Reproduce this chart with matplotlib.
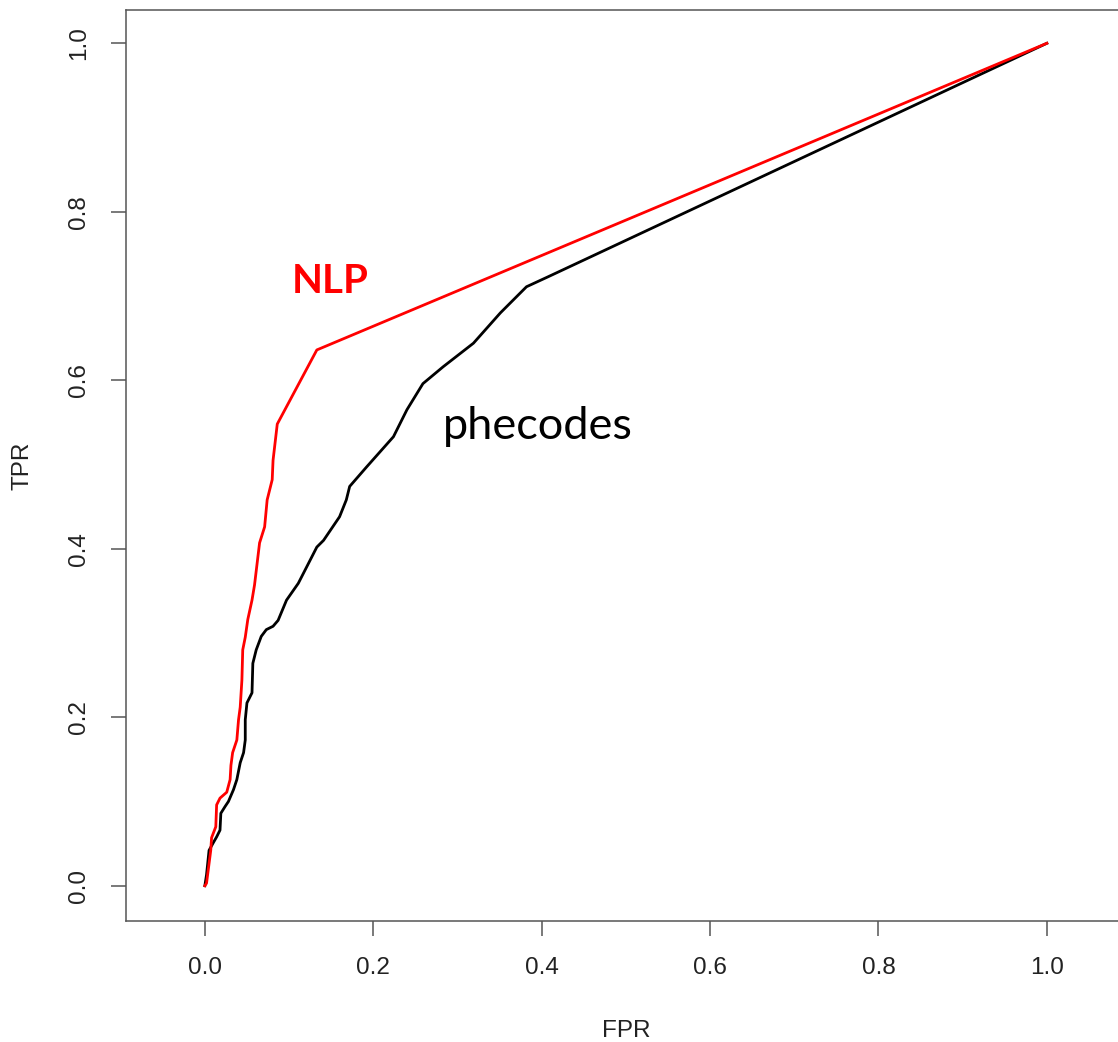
import matplotlib
matplotlib.use("Agg")
from matplotlib import pyplot as plt

# ROC points
nlp_fpr = [0.0, 0.002, 0.007, 0.008, 0.013, 0.014, 0.018, 0.026, 0.030, 0.031,
           0.033, 0.038, 0.040, 0.042, 0.044, 0.045, 0.048, 0.051, 0.056, 0.059,
           0.065, 0.071, 0.074, 0.080, 0.081, 0.086, 0.133, 1.0]
nlp_tpr = [0.0, 0.003, 0.042, 0.057, 0.070, 0.096, 0.104, 0.111, 0.126, 0.143,
           0.158, 0.173, 0.197, 0.212, 0.244, 0.280, 0.295, 0.316, 0.339, 0.357,
           0.407, 0.426, 0.458, 0.482, 0.505, 0.548, 0.636, 1.0]

phe_fpr = [0.0, 0.002, 0.005, 0.010, 0.014, 0.018, 0.019, 0.024, 0.028, 0.034,
           0.038, 0.042, 0.046, 0.048, 0.048, 0.050, 0.056, 0.057, 0.061, 0.067,
           0.073, 0.081, 0.087, 0.097, 0.111, 0.133, 0.141, 0.160, 0.168, 0.172,
           0.192, 0.224, 0.240, 0.259, 0.283, 0.319, 0.351, 0.382, 0.408, 1.0]
phe_tpr = [0.0, 0.013, 0.042, 0.051, 0.058, 0.066, 0.086, 0.094, 0.100, 0.114,
           0.126, 0.146, 0.158, 0.173, 0.197, 0.217, 0.229, 0.264, 0.280, 0.296,
           0.304, 0.308, 0.315, 0.339, 0.359, 0.402, 0.410, 0.438, 0.458, 0.474,
           0.497, 0.533, 0.565, 0.596, 0.616, 0.644, 0.680, 0.711, 0.723, 1.0]

ticks = [0.0, 0.2, 0.4, 0.6, 0.8, 1.0]
tick_labels = ["0.0", "0.2", "0.4", "0.6", "0.8", "1.0"]

plt.rcParams["font.family"] = ["Liberation Sans", "DejaVu Sans"]

fig = plt.figure(figsize=(11.18, 10.42), dpi=100)
ax = fig.add_axes([125.7 / 1118, 1 - 920.7 / 1042, (1126 - 125.7) / 1118, (920.7 - 10) / 1042])

ax.plot(phe_fpr, phe_tpr, color="black", lw=2.0)
ax.plot(nlp_fpr, nlp_tpr, color="red", lw=2.0)

ax.set_xlim(-0.094, 1.094)
ax.set_ylim(-0.0415, 1.0395)

ax.set_xticks(ticks)
ax.set_xticklabels(tick_labels)
ax.set_yticks(ticks)
ax.set_yticklabels(tick_labels, rotation=90, va="center")

ax.tick_params(length=10.8, width=1.1, color="#555555", labelsize=17.5,
               labelcolor="#222222", pad=15)
for s in ax.spines.values():
    s.set_color("#555555")
    s.set_linewidth(1.1)

ax.set_xlabel("FPR", fontsize=17.5, color="#222222", labelpad=30)
ax.set_ylabel("TPR", fontsize=17.5, color="#222222", labelpad=25)

ax.text(0.1485, 0.717, "NLP", color="red", fontsize=29, fontweight="bold",
        family=["Lato", "DejaVu Sans"], ha="center", va="center")
ax.text(0.3956, 0.545, "phecodes", color="black", fontsize=32.5,
        family=["Lato", "DejaVu Sans"], ha="center", va="center")

fig.savefig("out.png", dpi=100)
